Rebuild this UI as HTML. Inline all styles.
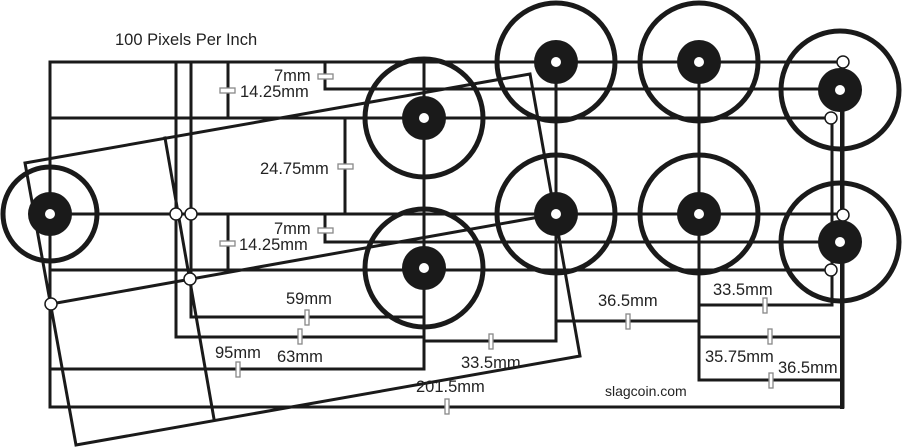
<!DOCTYPE html>
<html><head><style>
html,body{margin:0;padding:0;background:#fff;}
svg{display:block;}
text{font-family:"Liberation Sans",Arial,sans-serif;fill:#222;}
</style></head><body>
<svg width="902" height="447" viewBox="0 0 902 447" xmlns="http://www.w3.org/2000/svg">
<g stroke="#1a1a1a" stroke-width="3" fill="none" stroke-linecap="square">
<rect x="50" y="62" width="793" height="345"/>
<line x1="50" y1="118" x2="831" y2="118"/>
<line x1="50" y1="214" x2="842" y2="214"/>
<line x1="50" y1="270" x2="831" y2="270"/>
<line x1="325" y1="89" x2="839" y2="89"/>
<line x1="325" y1="242" x2="839" y2="242"/>
<line x1="191" y1="317" x2="424" y2="317"/>
<line x1="176" y1="337" x2="424" y2="337"/>
<line x1="424" y1="341" x2="556" y2="341"/>
<line x1="50" y1="369" x2="424" y2="369"/>
<line x1="556" y1="321" x2="699" y2="321"/>
<line x1="699" y1="305" x2="832" y2="305"/>
<line x1="699" y1="337" x2="843" y2="337"/>
<line x1="699" y1="380" x2="843" y2="380"/>
<line x1="176" y1="62" x2="176" y2="337"/>
<line x1="191" y1="62" x2="191" y2="317"/>
<line x1="228" y1="62" x2="228" y2="118"/>
<line x1="228" y1="214" x2="228" y2="270"/>
<line x1="325" y1="62" x2="325" y2="89"/>
<line x1="325" y1="214" x2="325" y2="242"/>
<line x1="345" y1="118" x2="345" y2="214"/>
<line x1="424" y1="62" x2="424" y2="369"/>
<line x1="556" y1="62" x2="556" y2="341"/>
<line x1="699" y1="62" x2="699" y2="380"/>
<line x1="832" y1="118" x2="832" y2="305"/>
<line x1="842" y1="62" x2="842" y2="407" stroke-width="4"/>
<polygon points="25,163 530,74 580,356 76,445" stroke-linejoin="miter"/>
<line x1="165" y1="138" x2="214" y2="419"/>
<line x1="51" y1="304" x2="556" y2="214"/>
</g>
<g>
<g fill="none" stroke="#1a1a1a" stroke-width="5">
<circle cx="50" cy="214" r="47"/>
<circle cx="424" cy="118" r="59"/>
<circle cx="424" cy="268" r="59"/>
<circle cx="556" cy="62" r="59"/>
<circle cx="556" cy="214" r="59"/>
<circle cx="699" cy="62" r="59"/>
<circle cx="699" cy="214" r="59"/>
<circle cx="840" cy="90" r="59"/>
<circle cx="840" cy="242" r="59"/>
</g>
<g fill="#1a1a1a">
<circle cx="50" cy="214" r="22"/>
<circle cx="424" cy="118" r="22"/>
<circle cx="424" cy="268" r="22"/>
<circle cx="556" cy="62" r="22"/>
<circle cx="556" cy="214" r="22"/>
<circle cx="699" cy="62" r="22"/>
<circle cx="699" cy="214" r="22"/>
<circle cx="840" cy="90" r="22"/>
<circle cx="840" cy="242" r="22"/>
</g>
<g fill="#fff">
<circle cx="50" cy="214" r="5"/>
<circle cx="424" cy="118" r="5"/>
<circle cx="424" cy="268" r="5"/>
<circle cx="556" cy="62" r="5"/>
<circle cx="556" cy="214" r="5"/>
<circle cx="699" cy="62" r="5"/>
<circle cx="699" cy="214" r="5"/>
<circle cx="840" cy="90" r="5"/>
<circle cx="840" cy="242" r="5"/>
</g>
<g fill="#fff" stroke="#1a1a1a" stroke-width="1.5">
<circle cx="176" cy="214" r="6"/>
<circle cx="191" cy="214" r="6"/>
<circle cx="190" cy="279" r="6"/>
<circle cx="51" cy="304" r="6"/>
<circle cx="843" cy="62" r="6"/>
<circle cx="831" cy="118" r="6"/>
<circle cx="843" cy="215" r="6"/>
<circle cx="831" cy="270" r="6"/>
</g>
</g>
<g fill="#fff" stroke="#888" stroke-width="1.3">
<rect x="220" y="88" width="15" height="5"/>
<rect x="318" y="74" width="15" height="5"/>
<rect x="338" y="164" width="15" height="5"/>
<rect x="318" y="228" width="15" height="5"/>
<rect x="220" y="241" width="15" height="5"/>
<rect x="305" y="310" width="4" height="15"/>
<rect x="298" y="329" width="4" height="15"/>
<rect x="236" y="362" width="4" height="15"/>
<rect x="489" y="334" width="4" height="15"/>
<rect x="626" y="314" width="4" height="15"/>
<rect x="763" y="298" width="4" height="15"/>
<rect x="768" y="329" width="4" height="15"/>
<rect x="769" y="373" width="4" height="15"/>
<rect x="445" y="399" width="4" height="15"/>
</g>
<g font-size="16.5">
<text x="115" y="45">100 Pixels Per Inch</text>
<text x="274" y="81">7mm</text>
<text x="240" y="97">14.25mm</text>
<text x="260" y="174">24.75mm</text>
<text x="274" y="234">7mm</text>
<text x="239" y="250">14.25mm</text>
<text x="286" y="304">59mm</text>
<text x="277" y="362">63mm</text>
<text x="215" y="358">95mm</text>
<text x="461" y="368">33.5mm</text>
<text x="416" y="392">201.5mm</text>
<text x="598" y="306">36.5mm</text>
<text x="713" y="295">33.5mm</text>
<text x="705" y="362">35.75mm</text>
<text x="778" y="373">36.5mm</text>
<text x="605" y="396" font-size="14">slagcoin.com</text>
</g>
</svg>
</body></html>
